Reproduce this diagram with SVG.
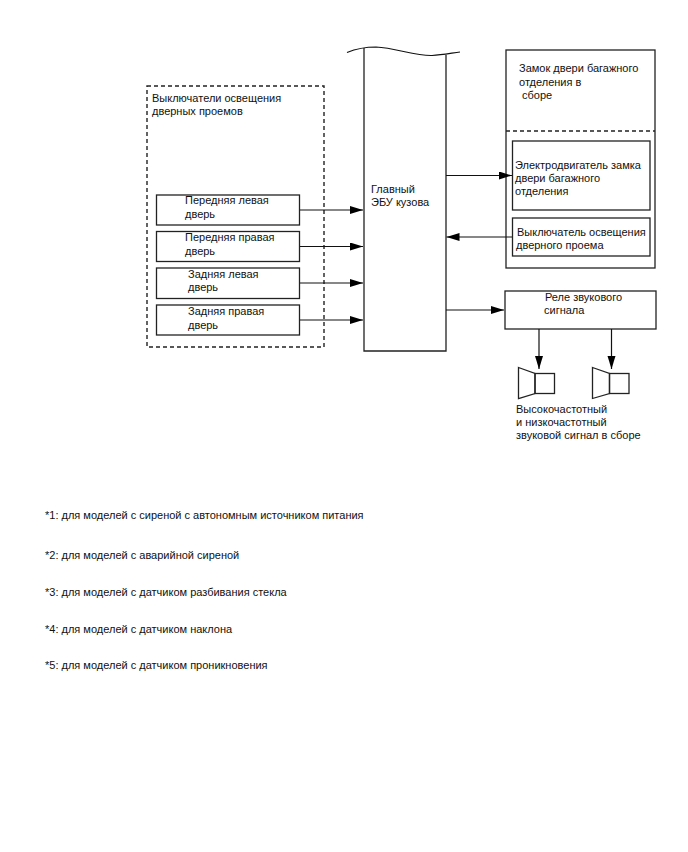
<svg xmlns="http://www.w3.org/2000/svg" width="688" height="852" viewBox="0 0 688 852">
<style>
text { font-family: "Liberation Sans", Arial, sans-serif; font-size: 11px; fill: #111; }
.box { fill: none; stroke: #222; stroke-width: 1.3; }
.dash { fill: none; stroke: #222; stroke-width: 1.4; stroke-dasharray: 4 3; }
.wire { fill: none; stroke: #111; stroke-width: 1.2; }
</style>
<defs>
<marker id="head" markerUnits="userSpaceOnUse" markerWidth="14" markerHeight="10" refX="13" refY="4" orient="auto">
<path d="M0 0L13 4L0 8Z" fill="#000"/>
</marker>
</defs>
<rect width="688" height="852" fill="#fff"/>
<g id="door-switches">
<rect class="dash" x="147" y="86" width="177" height="261"/>
<text x="152" y="102">Выключатели освещения</text>
<text x="152" y="115">дверных проемов</text>
</g>
<g id="front-left">
<rect class="box" x="156.500" y="195" width="143" height="30"/>
<text x="185" y="204">Передняя левая</text>
<text x="185" y="218">дверь</text>
</g>
<g id="front-right">
<rect class="box" x="156.500" y="231.500" width="143" height="30"/>
<text x="185" y="241">Передняя правая</text>
<text x="185" y="255">дверь</text>
</g>
<g id="rear-left">
<rect class="box" x="156.500" y="268" width="143" height="30.500"/>
<text x="188" y="278">Задняя левая</text>
<text x="188" y="291">дверь</text>
</g>
<g id="rear-right">
<rect class="box" x="156.500" y="305" width="143" height="30"/>
<text x="188" y="315">Задняя правая</text>
<text x="188" y="329">дверь</text>
</g>
<g id="body-ecu">
<path class="box" d="M364 48V351H446V55"/>
<path class="wire" d="M347 52.500C358 48 366 47 376 47C396 48 415 56 432 55.500C442 55 452 53 460 52"/>
<text x="371" y="193">Главный</text>
<text x="371" y="206">ЭБУ кузова</text>
</g>
<g id="trunk-lock">
<rect class="box" x="506" y="50" width="149" height="218"/>
<path class="dash" d="M506 131H655"/>
<text x="519" y="72">Замок двери багажного</text>
<text x="519" y="86">отделения в</text>
<text x="522" y="99"> сборе</text>
</g>
<g id="lock-motor">
<rect class="box" x="512.500" y="141" width="137.500" height="69"/>
<text x="515" y="169">Электродвигатель замка</text>
<text x="515" y="182">двери багажного</text>
<text x="515" y="195">отделения</text>
</g>
<g id="lock-switch">
<rect class="box" x="512.500" y="218" width="137.500" height="38"/>
<text x="517" y="236">Выключатель освещения</text>
<text x="516" y="249">дверного проема</text>
</g>
<g id="horn-relay">
<rect class="box" x="505" y="291" width="151" height="38"/>
<text x="545" y="301">Реле звукового</text>
<text x="544" y="314">сигнала</text>
</g>
<g id="horn-high">
<path class="box" d="M518.500 367.500L535 373.500V393.500L518.500 398.500Z"/>
<rect class="box" x="535" y="373.500" width="19.500" height="20"/>
</g>
<g id="horn-low">
<path class="box" d="M592.500 367.500L609.500 373.500V393.500L592.500 398.500Z"/>
<rect class="box" x="609.500" y="373.500" width="19.500" height="20"/>
</g>
<g id="horn-caption">
<text x="516" y="413">Высокочастотный</text>
<text x="516" y="426">и низкочастотный</text>
<text x="516" y="439">звуковой сигнал в сборе</text>
</g>
<g id="connectors">
<path class="wire" marker-end="url(#head)" d="M300 210H363"/>
<path class="wire" marker-end="url(#head)" d="M300 246.500H363"/>
<path class="wire" marker-end="url(#head)" d="M300 283H363"/>
<path class="wire" marker-end="url(#head)" d="M300 320H363"/>
<path class="wire" marker-end="url(#head)" d="M446 175.500H512"/>
<path class="wire" marker-end="url(#head)" d="M512 237H446.500"/>
<path class="wire" marker-end="url(#head)" d="M446 310H504"/>
<path class="wire" marker-end="url(#head)" d="M539 329V369"/>
<path class="wire" marker-end="url(#head)" d="M611.500 329V369"/>
</g>
<g id="notes">
<text x="45" y="519">*1: для моделей с сиреной с автономным источником питания</text>
<text x="45" y="559">*2: для моделей с аварийной сиреной</text>
<text x="45" y="596">*3: для моделей с датчиком разбивания стекла</text>
<text x="45" y="633">*4: для моделей с датчиком наклона</text>
<text x="45" y="669">*5: для моделей с датчиком проникновения</text>
</g>
</svg>
